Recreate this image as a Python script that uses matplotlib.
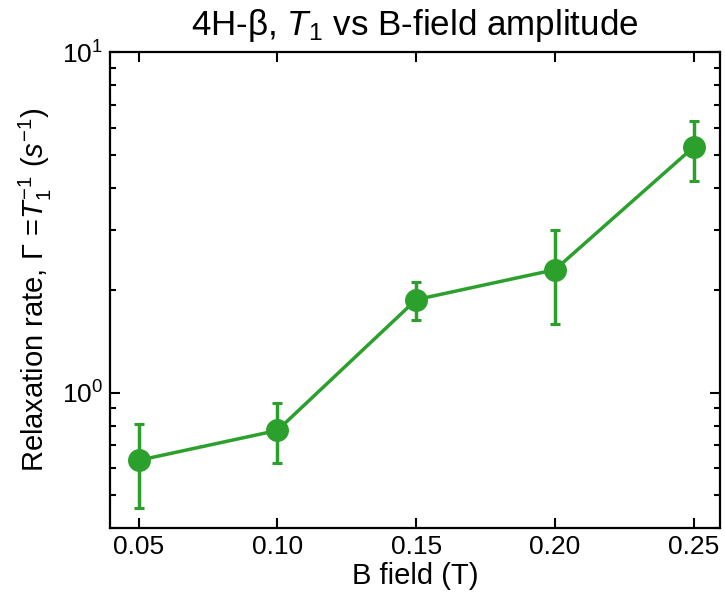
import numpy as np
import matplotlib
matplotlib.use("Agg")
import matplotlib.pyplot as plt

# Data
b_field = [0.05, 0.10, 0.15, 0.20, 0.25]
rate = [0.632, 0.774, 1.874, 2.295, 5.265]
err_low = [0.457, 0.623, 1.637, 1.593, 4.185]
err_high = [0.806, 0.929, 2.116, 3.006, 6.28]

plt.rcParams["font.family"] = ["Liberation Sans", "DejaVu Sans"]
plt.rcParams["mathtext.fontset"] = "custom"
plt.rcParams["mathtext.rm"] = "Liberation Sans"
plt.rcParams["mathtext.it"] = "Liberation Sans:italic"
plt.rcParams["font.size"] = 21

rate = np.array(rate)
yerr = [rate - np.array(err_low), np.array(err_high) - rate]

fig, ax = plt.subplots(figsize=(7.25, 5.98), dpi=100)
ax.errorbar(b_field, rate, yerr=yerr, color="#2ca02c", marker="o",
            markersize=15.5, linewidth=2.5, elinewidth=2.5, capsize=3.5, capthick=2.2)
ax.set_yscale("log")
ax.set_xlim(0.0398, 0.2594)
ax.set_ylim(0.4, 10)
ax.set_xticks(b_field)
ax.set_xticklabels(["%.2f" % v for v in b_field])
ax.tick_params(which="both", direction="in", top=True, right=True, width=1.5,
               labelsize=19)
ax.tick_params(which="major", length=7, pad=5)
ax.tick_params(which="minor", length=4)
for s in ax.spines.values():
    s.set_linewidth(1.6)

ax.set_title(r"4H-β, $T_1$ vs B-field amplitude", pad=12)
ax.set_xlabel("B field (T)", labelpad=2)
ax.set_ylabel(r"Relaxation rate, Γ =$T_1^{-1}$ ($s^{-1}$)", labelpad=6)

fig.subplots_adjust(left=0.152, right=0.993, top=0.913, bottom=0.117)
fig.savefig("out.png")
